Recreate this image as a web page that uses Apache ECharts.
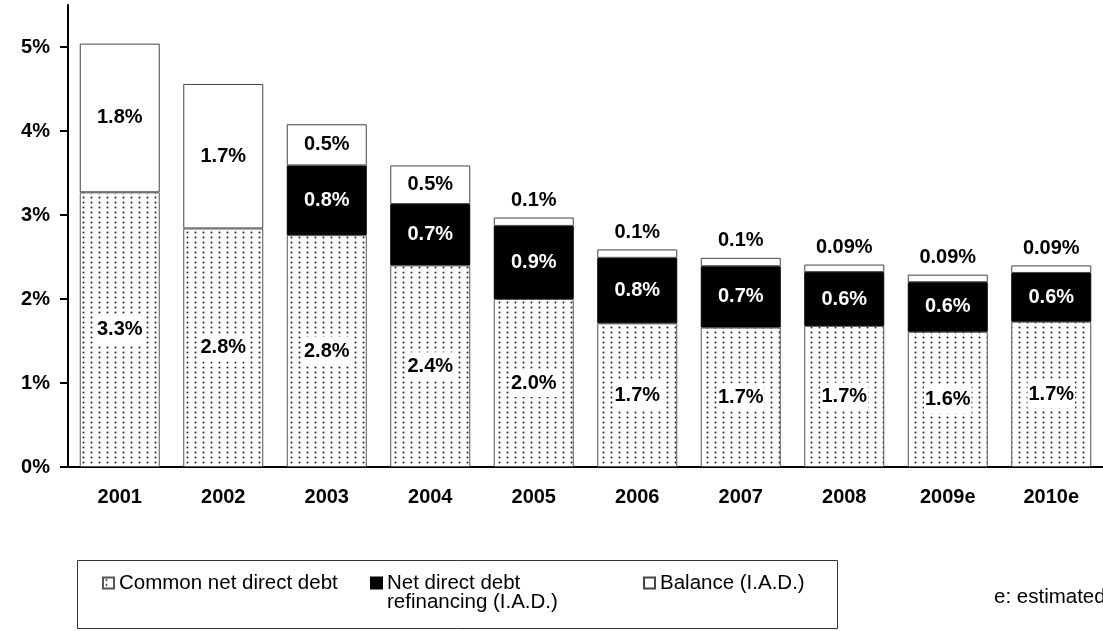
<!DOCTYPE html>
<html>
<head>
<meta charset="utf-8">
<style>
  html, body { margin: 0; padding: 0; background: #fff; }
  #chart { width: 1103px; height: 631px; }
</style>
<script src="https://cdn.jsdelivr.net/npm/echarts@6/dist/echarts.min.js"></script>
</head>
<body>
<div id="chart"></div>
<script>
// Years on the category axis
const years = ['2001', '2002', '2003', '2004', '2005', '2006', '2007', '2008', '2009e', '2010e'];
// Shares in % (stacked from bottom to top)
const commonDebt = [3.27, 2.84, 2.76, 2.40, 2.00, 1.71, 1.66, 1.68, 1.61, 1.73];
const refinancing = [null, null, 0.83, 0.73, 0.87, 0.78, 0.73, 0.64, 0.59, 0.58];
const balance = [1.77, 1.72, 0.49, 0.46, 0.10, 0.10, 0.10, 0.09, 0.09, 0.09];
// Labelled ticks on the value axis
const yTicks = [0, 1, 2, 3, 4, 5];

const seriesNames = ['Common net direct debt', 'Net direct debt\nrefinancing (I.A.D.)', 'Balance (I.A.D.)'];

const FONT = '"Liberation Sans", Arial, sans-serif';

// Fine dot screen used for the common debt fill
function dotPattern() {
  const c = document.createElement('canvas');
  c.width = 8; c.height = 5;
  const g = c.getContext('2d');
  g.fillStyle = '#fff';
  g.fillRect(0, 0, 8, 5);
  g.fillStyle = '#222';
  g.beginPath();
  g.arc(3.5, 2.5, 1.0, 0, Math.PI * 2);
  g.fill();
  return c;
}

const pct = v => (v < 0.095 ? v.toFixed(2) : v.toFixed(1)) + '%';

const labelBase = { show: true, fontFamily: FONT, fontWeight: 'bold', fontSize: 20, formatter: p => pct(p.value) };

const legendText = { color: '#000', fontFamily: FONT, fontSize: 20.5, lineHeight: 19 };
const legendBase = { padding: 0, itemWidth: 11, itemHeight: 11, itemGap: 4, icon: 'rect', selectedMode: false, textStyle: legendText };

const chart = echarts.init(document.getElementById('chart'), null, { renderer: 'canvas' });

chart.setOption({
  animation: false,
  backgroundColor: '#fff',
  grid: { left: 68, top: 5, width: 1037, height: 462, containLabel: false },
  xAxis: {
    type: 'category',
    data: years,
    axisLine: { lineStyle: { color: '#000', width: 2 } },
    axisTick: { show: false },
    axisLabel: { color: '#000', fontFamily: FONT, fontWeight: 'bold', fontSize: 20, margin: 20 }
  },
  yAxis: {
    type: 'value',
    min: 0,
    max: 5.5,
    interval: 1,
    axisLine: { show: true, lineStyle: { color: '#000', width: 2 } },
    axisTick: { show: true, length: 8, lineStyle: { color: '#000', width: 2 }, customValues: yTicks },
    axisLabel: {
      customValues: yTicks,
      formatter: v => v + '%',
      color: '#000', fontFamily: FONT, fontWeight: 'bold', fontSize: 20, margin: 18
    },
    splitLine: { show: false }
  },
  legend: [
    Object.assign({}, legendBase, { data: [seriesNames[0]], left: 102, top: 572.5 }),
    // leading blank line keeps the first text line level with the icon
    Object.assign({}, legendBase, { data: [seriesNames[1]], left: 370, top: 553.5, formatter: n => '\n' + n }),
    Object.assign({}, legendBase, { data: [seriesNames[2]], left: 643, top: 572.5 })
  ],
  graphic: [
    {
      type: 'rect', x: 77.5, y: 560.5, silent: true,
      shape: { x: 0, y: 0, width: 760, height: 68 },
      style: { fill: 'none', stroke: '#333', lineWidth: 1 }
    },
    {
      type: 'text', x: 994, y: 597, silent: true,
      style: { text: 'e: estimated', fill: '#000', font: '20.5px ' + FONT, verticalAlign: 'middle' }
    }
  ],
  series: [
    {
      name: seriesNames[0], type: 'bar', stack: 'debt', barWidth: 80,
      data: commonDebt,
      itemStyle: { color: { image: dotPattern(), repeat: 'repeat' }, borderColor: '#555', borderWidth: 1 },
      label: Object.assign({}, labelBase, { position: 'inside', color: '#000', backgroundColor: '#fff', padding: [4, 1] })
    },
    {
      name: seriesNames[1], type: 'bar', stack: 'debt', barWidth: 80,
      data: refinancing,
      itemStyle: { color: '#000', borderColor: '#000', borderWidth: 1 },
      label: Object.assign({}, labelBase, { position: 'inside', color: '#fff' })
    },
    {
      name: seriesNames[2], type: 'bar', stack: 'debt', barWidth: 80,
      data: balance.map(v => ({
        value: v,
        label: v >= 0.3 ? { position: 'inside' } : { position: 'top', distance: 7 }
      })),
      itemStyle: { color: '#fff', borderColor: '#444', borderWidth: 1 },
      label: Object.assign({}, labelBase, { color: '#000' })
    }
  ]
});
</script>
</body>
</html>
